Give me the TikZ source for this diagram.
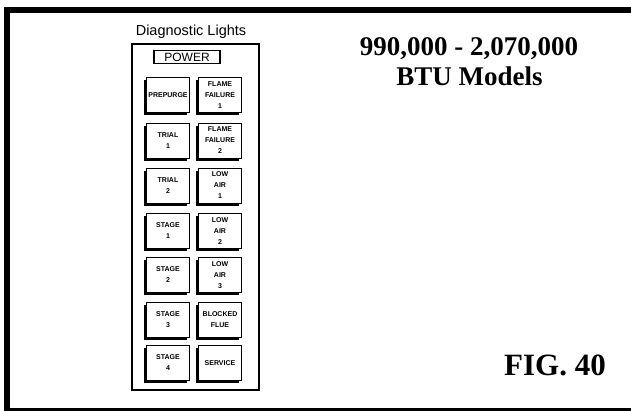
\documentclass[tikz,border=0pt]{standalone}
\usepackage{fontspec}
\setmainfont{Liberation Serif}
\newfontfamily\arialf{Liberation Sans}
\usetikzlibrary{shadows}
\begin{document}
\begin{tikzpicture}[x=1pt,y=-1pt,
  btn/.style={draw, fill=white, line width=0.9pt, minimum width=43pt, minimum height=35pt,
    inner sep=0pt, align=center,
    font=\arialf\bfseries\fontsize{7}{11}\selectfont,
    drop shadow={shadow xshift=-2.5pt, shadow yshift=-2.5pt, fill=black, opacity=1}},
  title/.style={font=\bfseries\fontsize{27}{30}\selectfont, anchor=base, inner sep=0pt}]
\useasboundingbox (0,0) rectangle (631,410);
\begin{scope}
\clip (0,0) rectangle (631,410);
\draw[line width=6pt] (7,9.5) rectangle (640,411);
\end{scope}
% panel
\draw[line width=1.3pt] (132,44) rectangle (259,390);
\node[inner sep=0pt, font=\arialf\fontsize{14.5}{16}\selectfont] (ttl) at (191,32) {Diagnostic Lights};
\node[draw, line width=1.3pt, minimum width=66pt, minimum height=12.5pt, inner sep=0pt,
  font=\arialf\fontsize{12}{13}\selectfont] (power) at (187,57) {POWER};
% buttons left column
\node[btn] (b1) at (168,95) {PREPURGE};
\node[btn] (b2) at (168,140.5) {TRIAL\\1};
\node[btn] (b3) at (168,185.5) {TRIAL\\2};
\node[btn] (b4) at (168,231) {STAGE\\1};
\node[btn] (b5) at (168,275) {STAGE\\2};
\node[btn] (b6) at (168,319.5) {STAGE\\3};
\node[btn] (b7) at (168,363) {STAGE\\4};
% right column
\node[btn] (c1) at (220,95) {FLAME\\FAILURE\\1};
\node[btn] (c2) at (220,140.5) {FLAME\\FAILURE\\2};
\node[btn] (c3) at (220,185.5) {LOW\\AIR\\1};
\node[btn] (c4) at (220,231) {LOW\\AIR\\2};
\node[btn] (c5) at (220,275) {LOW\\AIR\\3};
\node[btn] (c6) at (220,319.5) {BLOCKED\\FLUE};
\node[btn] (c7) at (220,363) {SERVICE};
% titles
\node[title] (t1) at (469,55) {990,000 - 2,070,000};
\node[title] (t2) at (469.5,85) {BTU Models};
\node[title, font=\bfseries\fontsize{31}{34}\selectfont] (fig) at (555,375) {FIG. 40};
\end{tikzpicture}
\end{document}
